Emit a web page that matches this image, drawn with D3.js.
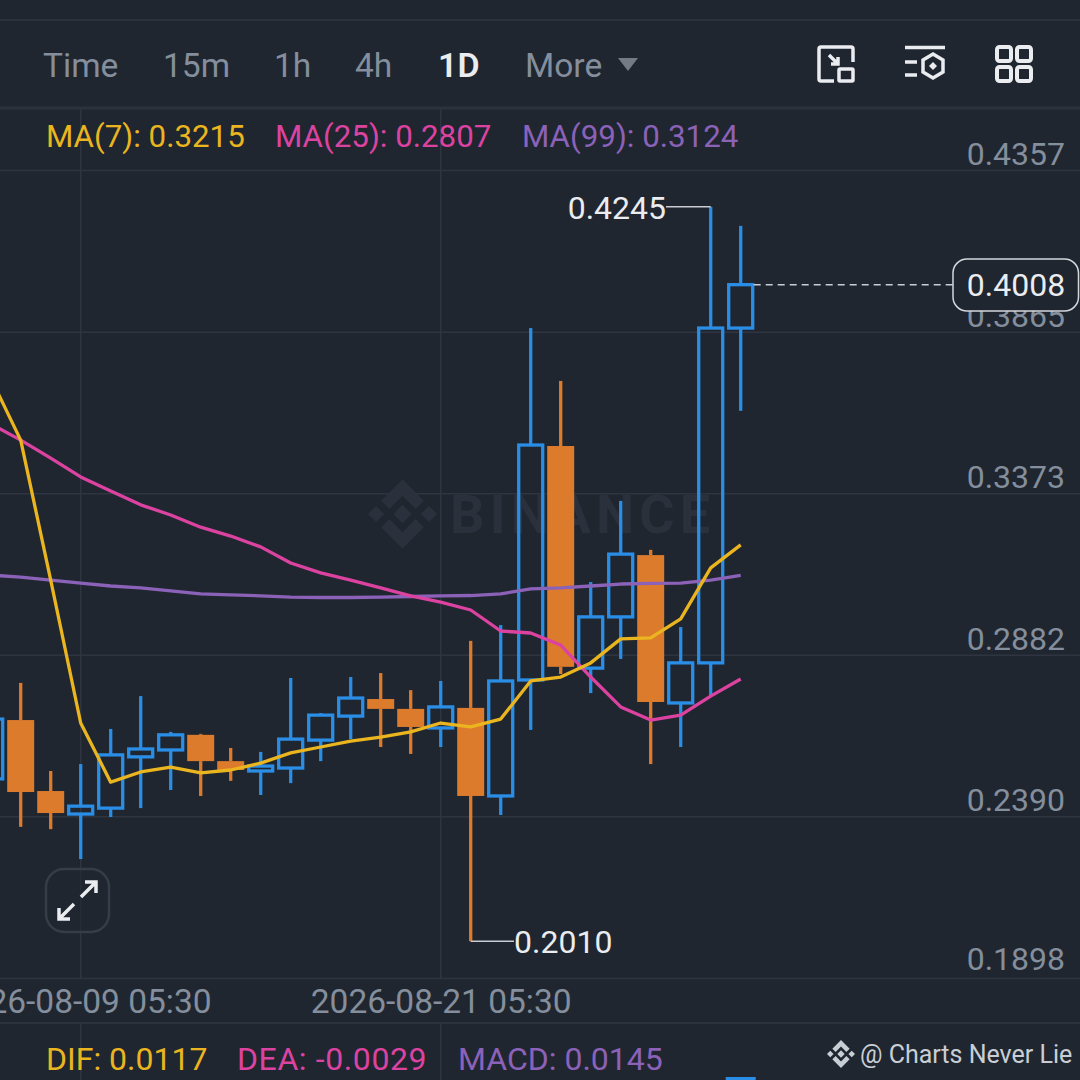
<!DOCTYPE html>
<html>
<head>
<meta charset="utf-8">
<title>Candles</title>
<script src="https://cdn.jsdelivr.net/npm/d3@7"></script>
<style>
  html, body { margin: 0; padding: 0; background: #1f2630; }
  svg { display: block; font-family: Roboto, sans-serif; }
</style>
</head>
<body>
<svg id="chart" width="1080" height="1080"></svg>
<script>
// Daily candles
var days = ["2026-08-06","2026-08-07","2026-08-08","2026-08-09","2026-08-10","2026-08-11","2026-08-12",
            "2026-08-13","2026-08-14","2026-08-15","2026-08-16","2026-08-17","2026-08-18","2026-08-19",
            "2026-08-20","2026-08-21","2026-08-22","2026-08-23","2026-08-24","2026-08-25","2026-08-26",
            "2026-08-27","2026-08-28","2026-08-29","2026-08-30","2026-08-31"];
var opens  = [0.2504,0.2683,0.2467,0.2397,0.2415,0.2571,0.2592,0.2638,0.2558,0.2528,0.2537,0.2622,0.2695,
              0.2747,0.2717,0.2659,0.2720,0.2452,0.2805,0.3517,0.2841,0.2997,0.3185,0.2735,0.2857,0.3876];
var closes = [0.2686,0.2464,0.2400,0.2421,0.2577,0.2595,0.2638,0.2558,0.2531,0.2543,0.2625,0.2698,0.2750,
              0.2717,0.2662,0.2723,0.2452,0.2802,0.3520,0.2845,0.2997,0.3188,0.2738,0.2857,0.3876,0.4008];
var highs  = [0.2760,0.2796,0.2528,0.2549,0.2656,0.2756,0.2647,0.2641,0.2598,0.2586,0.2811,0.2704,0.2814,
              0.2826,0.2774,0.2802,0.2924,0.2972,0.3876,0.3715,0.3103,0.3350,0.3201,0.2966,0.4245,0.4187];
var lows   = [0.2440,0.2358,0.2351,0.2260,0.2388,0.2415,0.2470,0.2452,0.2498,0.2455,0.2491,0.2558,0.2625,
              0.2601,0.2580,0.2601,0.2010,0.2394,0.2653,0.2823,0.2765,0.2869,0.2549,0.2601,0.2759,0.3624];

var ma7  = [0.3724,0.3535,0.3109,0.2674,0.2494,0.2525,0.2540,0.2522,0.2531,0.2552,0.2583,0.2601,0.2619,
            0.2631,0.2647,0.2674,0.2662,0.2686,0.2802,0.2814,0.2857,0.2930,0.2933,0.2991,0.3146,0.3216];
var ma25 = [0.3584,0.3535,0.3480,0.3423,0.3380,0.3338,0.3307,0.3270,0.3243,0.3210,0.3161,0.3131,0.3109,
            0.3085,0.3061,0.3042,0.3018,0.2954,0.2948,0.2911,0.2814,0.2723,0.2683,0.2698,0.2756,0.2808];
var ma99 = [0.3124,0.3118,0.3109,0.3100,0.3091,0.3085,0.3076,0.3067,0.3064,0.3061,0.3057,0.3056,0.3056,
            0.3057,0.3059,0.3061,0.3062,0.3067,0.3082,0.3085,0.3091,0.3097,0.3099,0.3100,0.3109,0.3123];

var priceTicks = [0.4357,0.3865,0.3373,0.2882,0.2390,0.1898];
var dateTicks = ["2026-08-09","2026-08-21"];
var intervals = ["Time","15m","1h","4h","1D","More"];
var intervalX = [43,163,274,355,438,525];
var maLabels = ["MA(7): 0.3215","MA(25): 0.2807","MA(99): 0.3124"];
var macdLabels = ["DIF: 0.0117","DEA: -0.0029","MACD: 0.0145"];
var macdLast = 0.0145;
var lastPrice = 0.4008, highLabel = 0.4245, lowLabel = 0.2010;

var bg = "#1f2630", grid = "#2e3540", grey = "#848e9c", white = "#eaecef";
var blue = "#2a8de6", orange = "#dd7b2d";
var maColors = ["#eab51f","#dc43a0","#8b62b8"];

var svg = d3.select("#chart");
svg.append("rect").attr("width", 1080).attr("height", 1080).attr("fill", bg);

var x = d3.scalePoint().domain(days).range([-9.3, 740.7]);
var y = d3.scaleLinear().domain([0.1898, 0.4357]).range([978, 170]);
var fmt = d3.format(".4f");

// vertical grid, broken around the date band
dateTicks.forEach(function(d) {
  svg.append("line").attr("x1", x(d)).attr("x2", x(d)).attr("y1", 108).attr("y2", 978).attr("stroke", grid).attr("stroke-width", 1.5);
  svg.append("line").attr("x1", x(d)).attr("x2", x(d)).attr("y1", 1023).attr("y2", 1080).attr("stroke", grid).attr("stroke-width", 1.5);
});

// separators
[[20,2],[108,3],[1023,2]].forEach(function(s) {
  svg.append("line").attr("x1", 0).attr("x2", 1080).attr("y1", s[0]).attr("y2", s[0]).attr("stroke", "#2b323d").attr("stroke-width", s[1]);
});

// price axis: gridlines across, labels sit above their line
var yAxis = svg.append("g").call(d3.axisRight(y).tickValues(priceTicks).tickFormat(fmt).tickSize(1080));
yAxis.select(".domain").remove();
yAxis.selectAll("line").attr("stroke", grid).attr("stroke-width", 1.5);
yAxis.selectAll("text")
  .attr("x", 1065).attr("dy", function(d) { return d == 0.1898 ? "-0.27em" : "-0.17em"; }).attr("text-anchor", "end")
  .attr("fill", grey).style("font-size", "32px").style("font-family", "Roboto, sans-serif");

// date axis
var xAxis = svg.append("g").attr("transform", "translate(0,978)")
  .call(d3.axisBottom(x).tickValues(dateTicks).tickSize(0).tickFormat(function(d) { return d + " 05:30"; }));
xAxis.select(".domain").remove();
xAxis.selectAll("text")
  .attr("y", 35).attr("dy", 0)
  .attr("fill", grey).style("font-size", "33.5px").style("font-family", "Roboto, sans-serif");

// binance mark, r is half its width
function drawLogo(g, cx, cy, r) {
  var shapes = [
    [[0,-34],[21,-13],[13,-5],[0,-18],[-13,-5],[-21,-13]],
    [[0,34],[21,13],[13,5],[0,18],[-13,5],[-21,13]],
    [[-26,-8],[-18,0],[-26,8],[-34,0]],
    [[26,-8],[34,0],[26,8],[18,0]],
    [[0,-9],[9,0],[0,9],[-9,0]]
  ];
  var k = r / 34;
  shapes.forEach(function(s) {
    g.append("path").attr("d", d3.line().x(function(p) { return cx + p[0]*k; }).y(function(p) { return cy + p[1]*k; })(s) + "Z");
  });
}

// watermark
var logo = svg.append("g").attr("fill", "#2a313c");
drawLogo(logo, 402.5, 514, 34.5);
svg.append("text").attr("x", 450).attr("y", 533).attr("fill", "#2a313c")
  .attr("font-size", 54).attr("font-weight", 700).attr("letter-spacing", 5.2).text("BINANCE");

// candles
var candles = days.map(function(d, i) {
  return { day: d, o: opens[i], c: closes[i], h: highs[i], l: lows[i] };
});
var g = svg.selectAll(".candle").data(candles).enter().append("g").attr("class", "candle");
g.append("line").attr("x1", function(d) { return x(d.day); }).attr("x2", function(d) { return x(d.day); })
  .attr("y1", function(d) { return y(d.h); }).attr("y2", function(d) { return y(Math.max(d.o, d.c)); })
  .attr("stroke", function(d) { return d.c >= d.o ? blue : orange; }).attr("stroke-width", 3.3);
g.append("line").attr("x1", function(d) { return x(d.day); }).attr("x2", function(d) { return x(d.day); })
  .attr("y1", function(d) { return y(Math.min(d.o, d.c)); }).attr("y2", function(d) { return y(d.l); })
  .attr("stroke", function(d) { return d.c >= d.o ? blue : orange; }).attr("stroke-width", 3.3);
g.append("rect")
  .attr("x", function(d) { return x(d.day) - (d.c >= d.o ? 12 : 13.5); })
  .attr("width", function(d) { return d.c >= d.o ? 24 : 27; })
  .attr("y", function(d) { return y(Math.max(d.o, d.c)); })
  .attr("height", function(d) { return Math.abs(y(d.o) - y(d.c)); })
  .attr("fill", function(d) { return d.c >= d.o ? "none" : orange; })
  .attr("stroke", function(d) { return d.c >= d.o ? blue : "none"; })
  .attr("stroke-width", 3.3);

// moving averages
var line = d3.line().x(function(d, i) { return x(days[i]); }).y(function(d) { return y(d); });
[ma99, ma25, ma7].forEach(function(s, i) {
  svg.append("path").attr("d", line(s)).attr("fill", "none")
    .attr("stroke", maColors[2 - i]).attr("stroke-width", 3.3).attr("stroke-linejoin", "round");
});

// high / low notes
var lastDay = days[days.length - 1];
svg.append("line").attr("x1", 666).attr("x2", x(days[24])).attr("y1", y(highLabel)).attr("y2", y(highLabel)).attr("stroke", "#c9ccd1").attr("stroke-width", 1.5);
svg.append("text").attr("x", 666).attr("y", y(highLabel) + 12).attr("text-anchor", "end").attr("fill", white).attr("font-size", 32).text(fmt(highLabel));
svg.append("line").attr("x1", x(days[16])).attr("x2", 514).attr("y1", y(lowLabel)).attr("y2", y(lowLabel)).attr("stroke", "#c9ccd1").attr("stroke-width", 1.5);
svg.append("text").attr("x", 514).attr("y", y(lowLabel) + 12).attr("fill", white).attr("font-size", 32).text(fmt(lowLabel));

// last price tag
svg.append("line").attr("x1", x(lastDay) + 13).attr("x2", 953).attr("y1", y(lastPrice)).attr("y2", y(lastPrice))
  .attr("stroke", "#c9ccd1").attr("stroke-width", 1.5).attr("stroke-dasharray", "7,5");
svg.append("rect").attr("x", 953).attr("y", 259).attr("width", 125.5).attr("height", 52).attr("rx", 14)
  .attr("fill", bg).attr("stroke", "#d5d8dc").attr("stroke-width", 1.5);
svg.append("text").attr("x", 1016).attr("y", 296).attr("text-anchor", "middle").attr("fill", white).attr("font-size", 32).text(fmt(lastPrice));

// interval bar
intervals.forEach(function(t, i) {
  svg.append("text").attr("x", intervalX[i]).attr("y", 77).attr("font-size", t == "1D" ? 34 : 33.5)
    .attr("font-weight", t == "1D" ? 600 : 400)
    .attr("fill", t == "1D" ? white : grey).text(t);
});
svg.append("path").attr("d", "M618,58L638,58L628,71Z").attr("fill", "#737b85");

// toolbar icons
var icons = svg.append("g").attr("fill", "none").attr("stroke", white).attr("stroke-width", 3.5);
icons.append("path").attr("d", "M834,81H821a2,2 0 0 1 -2,-2V49a2,2 0 0 1 2,-2H851a2,2 0 0 1 2,2V62");
icons.append("rect").attr("x", 839).attr("y", 69).attr("width", 14).attr("height", 12).attr("rx", 1);
icons.append("path").attr("d", "M829,55L838,64M838,57V64H831");
icons.append("path").attr("d", "M905,47.5H945M905,62H917M905,75H917");
icons.append("path").attr("d", "M933,54L943,60V72L933,78L923,72V60Z");
icons.append("path").attr("d", "M933,62L937,66L933,70L929,66Z").attr("fill", white).attr("stroke", "none");
[[997,47],[1017,47],[997,67],[1017,67]].forEach(function(p) {
  icons.append("rect").attr("x", p[0]).attr("y", p[1]).attr("width", 14).attr("height", 14).attr("rx", 2.5).attr("stroke-width", 4);
});

// legends
var maX = [46,275,522];
maLabels.forEach(function(t, i) {
  svg.append("text").attr("x", maX[i]).attr("y", 147).attr("font-size", 31.3).attr("fill", maColors[i]).text(t);
});
var macdX = [46,237,458];
macdLabels.forEach(function(t, i) {
  svg.append("text").attr("x", macdX[i]).attr("y", 1070).attr("font-size", 32).attr("letter-spacing", i == 1 ? 0.6 : 0).attr("fill", maColors[i]).text(t);
});

// top of the MACD pane, only the last bar shows
var macdY = d3.scaleLinear().domain([0, macdLast]).range([1150, 1077]);
svg.append("rect").attr("x", x(lastDay) - 15).attr("width", 30).attr("y", macdY(macdLast)).attr("height", 1150 - macdY(macdLast)).attr("fill", blue);

// expand button
svg.append("rect").attr("x", 46).attr("y", 869).attr("width", 63).attr("height", 63).attr("rx", 18)
  .attr("fill", bg).attr("fill-opacity", 0.6).attr("stroke", "#363d48").attr("stroke-width", 2.5);
svg.append("path").attr("d", "M81,897L96,882M85,882H96V893M74,904L59,919M59,908V919H70")
  .attr("fill", "none").attr("stroke", white).attr("stroke-width", 3.5);

// author mark
var mark = svg.append("g").attr("fill", "#c9ced5");
drawLogo(mark, 841, 1054, 14);
svg.append("text").attr("x", 860).attr("y", 1063).attr("font-size", 25).attr("fill", "#c9ced5").text("@ Charts Never Lie");
</script>
</body>
</html>
